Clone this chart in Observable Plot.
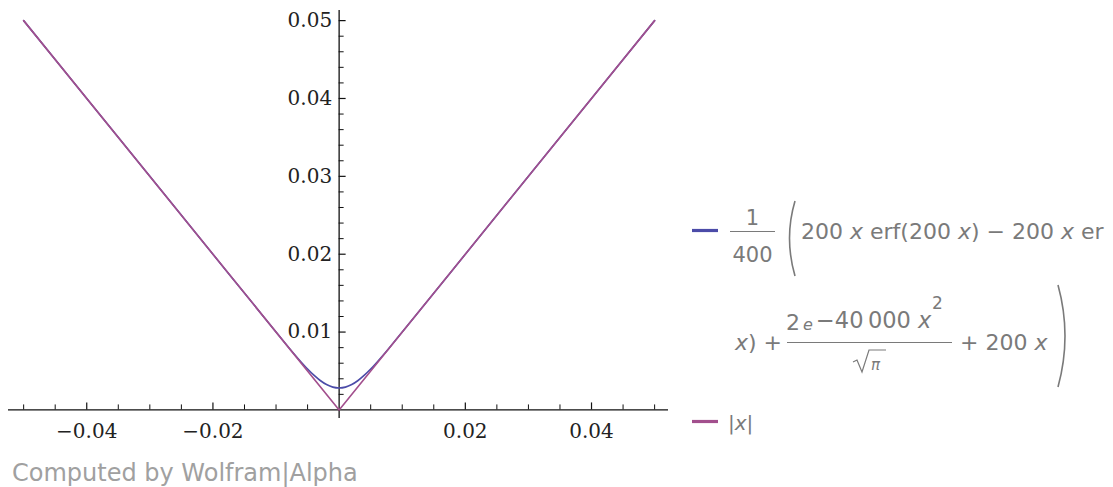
<!DOCTYPE html>
<html>
<head>
<meta charset="utf-8">
<script src="https://cdn.jsdelivr.net/npm/d3@7"></script>
<script src="https://cdn.jsdelivr.net/npm/@observablehq/plot@0.6"></script>
<style>
  html, body { margin: 0; padding: 0; background: #fff; }
  #wrap { position: relative; width: 1113px; height: 487px; overflow: hidden; }
  #chart { position: absolute; left: 0; top: 0; }
  #legend { position: absolute; left: 0; top: 0; }
  #caption { position: absolute; left: 12px; top: 459px; font: 24px "DejaVu Sans", sans-serif; color: #a0a0a0; white-space: nowrap; }
</style>
</head>
<body>
<div id="wrap">
  <div id="chart"></div>
  <svg id="legend" width="1113" height="487" xmlns="http://www.w3.org/2000/svg"></svg>
  <div id="caption">Computed by Wolfram|Alpha</div>
</div>
<script>
// ---- data ----
const smoothX = [-0.05, -0.04, -0.03, -0.02, -0.012, -0.01, -0.008, -0.007, -0.006, -0.005, -0.004, -0.003, -0.002, -0.001, 0,
                 0.001, 0.002, 0.003, 0.004, 0.005, 0.006, 0.007, 0.008, 0.01, 0.012, 0.02, 0.03, 0.04, 0.05];
const smoothY = [0.05, 0.04, 0.03, 0.02, 0.012, 0.01, 0.00803, 0.00706, 0.00613, 0.00525, 0.00446, 0.00378, 0.00326, 0.00293, 0.00282,
                 0.00293, 0.00326, 0.00378, 0.00446, 0.00525, 0.00613, 0.00706, 0.00803, 0.01, 0.012, 0.02, 0.03, 0.04, 0.05];
const absX = [-0.05, 0, 0.05];
const absY = [0.05, 0, 0.05];
const xMajorTicks = [-0.04, -0.02, 0.02, 0.04];
const xMinorTicks = [-0.05, -0.045, -0.035, -0.03, -0.025, -0.015, -0.01, -0.005, 0.005, 0.01, 0.015, 0.025, 0.03, 0.035, 0.045, 0.05];
const yMajorTicks = [0.01, 0.02, 0.03, 0.04, 0.05];
const yMinorTicks = [0.002, 0.004, 0.006, 0.008, 0.012, 0.014, 0.016, 0.018, 0.022, 0.024, 0.026, 0.028,
                     0.032, 0.034, 0.036, 0.038, 0.042, 0.044, 0.046, 0.048];
const seriesNames = ["smooth", "abs"];

// ---- layout ----
const W = 1113, H = 487;
const mL = 8, mR = 445, mT = 10, mB = 69;
const xDom = [-0.0524, 0.0522], yDom = [-0.0011, 0.0513];
const kx = (W - mL - mR) / (xDom[1] - xDom[0]);
const ky = (H - mT - mB) / (yDom[1] - yDom[0]);
const BLUE = "#4b4ba8", PURPLE = "#a24f8d";

const smooth = smoothX.map((x, i) => ({x, y: smoothY[i], s: seriesNames[0]}));
const abs = absX.map((x, i) => ({x, y: absY[i], s: seriesNames[1]}));
const fmt = d3.format(".2f");

const plot = Plot.plot({
  width: W, height: H,
  marginLeft: mL, marginRight: mR, marginTop: mT, marginBottom: mB,
  x: {domain: xDom, axis: null},
  y: {domain: yDom, axis: null},
  style: {background: "transparent"},
  marks: [
    Plot.ruleY([0], {stroke: "#111", strokeWidth: 1.3}),
    Plot.ruleX([0], {stroke: "#111", strokeWidth: 1.3}),
    Plot.ruleX(xMajorTicks, {x: d => d, y1: 0, y2: 7 / ky, stroke: "#111", strokeWidth: 1.2}),
    Plot.ruleX(xMinorTicks, {x: d => d, y1: 0, y2: 5 / ky, stroke: "#111", strokeWidth: 1}),
    Plot.ruleY(yMajorTicks, {y: d => d, x1: 0, x2: 7 / kx, stroke: "#111", strokeWidth: 1.2}),
    Plot.ruleY(yMinorTicks, {y: d => d, x1: 0, x2: 5 / kx, stroke: "#111", strokeWidth: 1}),
    Plot.text(xMajorTicks, {x: d => d, y: 0, text: d => fmt(d), dy: 22, fontFamily: "DejaVu Serif", fontSize: 20, fill: "#222"}),
    Plot.text(yMajorTicks, {x: 0, y: d => d, text: d => fmt(d), dx: -7, textAnchor: "end", fontFamily: "DejaVu Serif", fontSize: 20, fill: "#222"}),
    Plot.line(smooth, {x: "x", y: "y", stroke: BLUE, strokeWidth: 1.6, curve: "catmull-rom"}),
    Plot.line(abs, {x: "x", y: "y", stroke: PURPLE, strokeWidth: 1.6})
  ]
});
document.getElementById("chart").appendChild(plot);

// ---- legend ----
const ns = "http://www.w3.org/2000/svg";
const lg = document.getElementById("legend");
const G = "#7a7a7a";
function el(tag, attrs, txt) {
  const e = document.createElementNS(ns, tag);
  for (const k in attrs) e.setAttribute(k, attrs[k]);
  if (txt != null) e.textContent = txt;
  lg.appendChild(e);
  return e;
}
function txt(x, y, s, size, opts = {}) {
  return el("text", Object.assign({x, y, fill: G, "font-family": "DejaVu Sans", "font-size": size}, opts), s);
}
function rich(x, y, parts, size) {
  const t = el("text", {x, y, fill: G, "font-family": "DejaVu Sans", "font-size": size});
  for (const p of parts) {
    const ts = document.createElementNS(ns, "tspan");
    ts.textContent = p[0];
    if (p[1]) ts.setAttribute("font-style", "italic");
    t.appendChild(ts);
  }
  return t;
}
// swatches
el("line", {x1: 692, x2: 718, y1: 230.5, y2: 230.5, stroke: BLUE, "stroke-width": 3.2});
el("line", {x1: 692, x2: 718, y1: 421.5, y2: 421.5, stroke: PURPLE, "stroke-width": 3.2});
// 1/400
txt(752.5, 225, "1", 21, {"text-anchor": "middle"});
el("line", {x1: 730, x2: 775, y1: 231.5, y2: 231.5, stroke: G, "stroke-width": 1});
txt(752.5, 262, "400", 21, {"text-anchor": "middle"});
// left paren
el("path", {d: "M795,201 Q784,238 795,276", fill: "none", stroke: G, "stroke-width": 1.6});
// row 1
rich(801, 239, [["200 "], ["x", 1], [" erf(200 "], ["x", 1], [") \u2212 200 "], ["x", 1], [" er"]], 22);
// row 2
rich(735, 350, [["x", 1], [") +"]], 22);
txt(786, 330, "2", 22);
txt(803, 330, "e", 16, {"font-style": "italic"});
rich(816, 328, [["\u221240\u2009000 "], ["x", 1]], 22.5);
txt(932, 309, "2", 17);
el("line", {x1: 787, x2: 952, y1: 342.5, y2: 342.5, stroke: G, "stroke-width": 1});
el("path", {d: "M853,362 L857,360 L862,372 L869,350 L886,350", fill: "none", stroke: G, "stroke-width": 1.2});
txt(871, 370, "\u03C0", 15, {"font-style": "italic"});
rich(960, 350, [["+ 200 "], ["x", 1]], 22);
// right paren
el("path", {d: "M1058,285 Q1072,336 1058,387", fill: "none", stroke: G, "stroke-width": 1.6});
// row 3
rich(728, 430, [["|"], ["x", 1], ["|"]], 20);
</script>
</body>
</html>
